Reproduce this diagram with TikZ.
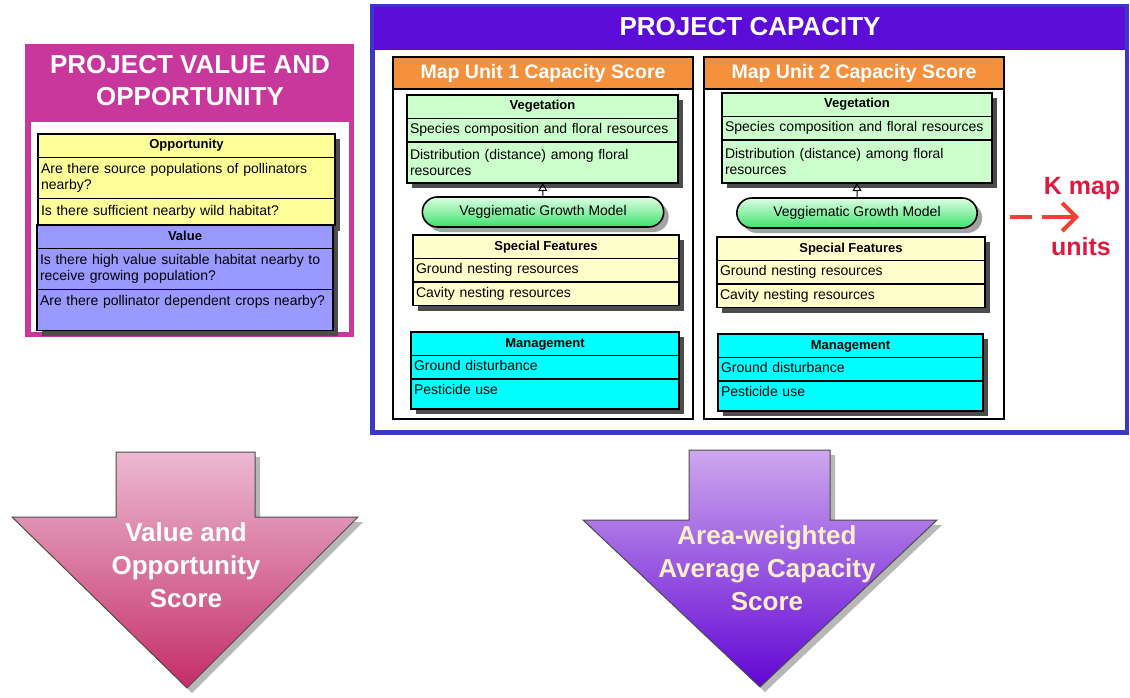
\documentclass[tikz,border=0pt]{standalone}
\usepackage{fontspec}
\setmainfont{Liberation Sans}
\usepackage{xcolor}
\usepackage{tikz}
\usetikzlibrary{positioning, shadows, shapes.misc, arrows.meta}

\definecolor{vomag}{RGB}{200,55,155}
\definecolor{oppfill}{RGB}{255,255,153}
\definecolor{valfill}{RGB}{153,153,255}
\definecolor{capblue}{RGB}{60,55,200}
\definecolor{caphead}{RGB}{92,12,215}
\definecolor{muorange}{RGB}{245,145,60}
\definecolor{vegfill}{RGB}{204,255,204}
\definecolor{sffill}{RGB}{255,255,204}
\definecolor{mgfill}{RGB}{0,255,255}
\definecolor{pilltop}{RGB}{222,255,226}
\definecolor{pillbot}{RGB}{60,225,110}
\definecolor{kmapred}{RGB}{225,25,65}
\definecolor{arrred}{RGB}{240,65,55}
\definecolor{votop}{RGB}{236,186,208}
\definecolor{vobot}{RGB}{196,45,105}
\definecolor{ctop}{RGB}{205,168,238}
\definecolor{cbot}{RGB}{98,5,212}
\definecolor{capyellow}{RGB}{255,240,200}

\begin{document}
\begin{tikzpicture}[x=1pt, y=-1pt, font=\fontsize{14}{16.5}\selectfont]
    \useasboundingbox (0,0) rectangle (1130,698);
    \tikzstyle{cell} = [draw, line width=1.6pt, outer sep=0pt, inner xsep=3pt, inner ysep=4pt,
        drop shadow={shadow xshift=5pt, shadow yshift=-5pt, fill=black!70, opacity=1}]
    \tikzstyle{hdr} = [cell, font=\fontsize{13}{15}\selectfont\bfseries, minimum height=23.5pt,
        text height=9.5pt, text depth=3pt]
    \tikzstyle{item} = [cell, align=left, minimum height=23.5pt, text height=10pt, text depth=3.5pt]
    \tikzstyle{item2} = [cell, align=left, minimum height=41pt]
    \tikzstyle{muframe} = [draw, line width=1.6pt, fill=white, outer sep=0pt, minimum width=300pt,
        minimum height=362pt, anchor=north west]
    \tikzstyle{mutitle} = [draw, line width=1.6pt, fill=muorange, outer sep=0pt, text=white,
        font=\fontsize{19.5}{22}\selectfont\bfseries, minimum width=300pt, minimum height=32pt,
        anchor=north west]
    \tikzstyle{pill} = [rounded rectangle, draw, line width=1.6pt, top color=pilltop,
        bottom color=pillbot, minimum height=30pt,
        drop shadow={shadow xshift=5pt, shadow yshift=-5pt, fill=black!45, opacity=.8}]
    \tikzstyle{gen} = [line width=1pt, -{Triangle[open, length=8pt, width=9pt]}]
    \tikzstyle{paneltitle} = [text=white, font=\fontsize{26}{32}\selectfont\bfseries, align=center]
    \tikzstyle{kmaplabel} = [text=kmapred, font=\fontsize{25}{30}\selectfont\bfseries, anchor=base]
    \tikzstyle{karrow} = [draw=arrred, line width=4pt, dash pattern=on 22pt off 10pt on 80pt off 0pt,
        -{Straight Barb[length=14pt, width=28pt]}]
    \tikzstyle{bigarrow} = [draw=black!70, line width=1pt,
        drop shadow={shadow xshift=5pt, shadow yshift=-5pt, fill=black!40, opacity=.7}]
    \tikzstyle{arrowtext} = [font=\fontsize{26}{33}\selectfont\bfseries, align=center]

    % value and opportunity panel
    \fill[vomag] (25,44) rectangle (354,337);
    \fill[white] (31,122) rectangle (349,332);
    \node[paneltitle] (votitle) at (190,81) {PROJECT VALUE AND\\OPPORTUNITY};

    \node[hdr, fill=oppfill, minimum width=297pt, anchor=north west] (opp) at (38,134) {Opportunity};
    \node[item2, fill=oppfill, text width=291pt, below=0pt of opp] (oppa)
        {Are there source populations of pollinators\\nearby?};
    \node[item, fill=oppfill, text width=291pt, minimum height=27pt, below=0pt of oppa] (oppb)
        {Is there sufficient nearby wild habitat?};

    \node[hdr, fill=valfill, minimum width=296pt, anchor=north west] (val) at (37,225) {Value};
    \node[item2, fill=valfill, text width=290pt, below=0pt of val] (vala)
        {Is there high value suitable habitat nearby to\\receive growing population?};
    \node[item, fill=valfill, text width=290pt, minimum height=41pt, text depth=20pt,
        below=0pt of vala] (valb) {Are there pollinator dependent crops nearby?};

    % capacity panel
    \fill[capblue] (370,4) rectangle (1129,435);
    \fill[caphead] (374,7) rectangle (1125,50);
    \fill[white] (375,50) rectangle (1125,430);
    \node[paneltitle] (captitle) at (750,27) {PROJECT CAPACITY};

    % map unit 1
    \node[muframe] (mu1) at (393,57) {};
    \node[mutitle] (mu1t) at (393,57) {Map Unit 1 Capacity Score};

    \node[hdr, fill=vegfill, minimum width=271pt, anchor=north west] (veg1) at (407,95) {Vegetation};
    \node[item, fill=vegfill, text width=265pt, below=0pt of veg1] (veg1a)
        {Species composition and floral resources};
    \node[item2, fill=vegfill, text width=265pt, below=0pt of veg1a] (veg1b)
        {Distribution (distance) among floral\\resources};
    \node[pill, minimum width=248pt] (gm1) at (543,212) {Veggiematic Growth Model};
    \draw[gen] (gm1) -- (veg1b);

    \node[hdr, fill=sffill, minimum width=266pt, anchor=north west] (sf1) at (413,235) {Special Features};
    \node[item, fill=sffill, text width=260pt, below=0pt of sf1] (sf1a) {Ground nesting resources};
    \node[item, fill=sffill, text width=260pt, below=0pt of sf1a] (sf1b) {Cavity nesting resources};

    \node[hdr, fill=mgfill, minimum width=268pt, anchor=north west] (mg1) at (411,332) {Management};
    \node[item, fill=mgfill, text width=262pt, below=0pt of mg1] (mg1a) {Ground disturbance};
    \node[item, fill=mgfill, text width=262pt, minimum height=30pt, text depth=9.5pt,
        below=0pt of mg1a] (mg1b) {Pesticide use};

    % map unit 2
    \node[muframe] (mu2) at (704,57) {};
    \node[mutitle] (mu2t) at (704,57) {Map Unit 2 Capacity Score};

    \node[hdr, fill=vegfill, minimum width=270pt, anchor=north west] (veg2) at (722,93) {Vegetation};
    \node[item, fill=vegfill, text width=264pt, below=0pt of veg2] (veg2a)
        {Species composition and floral resources};
    \node[item2, fill=vegfill, text width=264pt, minimum height=43pt, below=0pt of veg2a] (veg2b)
        {Distribution (distance) among floral\\resources};
    \node[pill, minimum width=247pt] (gm2) at (857,213) {Veggiematic Growth Model};
    \draw[gen] (gm2) -- (veg2b);

    \node[hdr, fill=sffill, minimum width=268pt, anchor=north west] (sf2) at (717,237) {Special Features};
    \node[item, fill=sffill, text width=262pt, below=0pt of sf2] (sf2a) {Ground nesting resources};
    \node[item, fill=sffill, text width=262pt, below=0pt of sf2a] (sf2b) {Cavity nesting resources};

    \node[hdr, fill=mgfill, minimum width=265pt, anchor=north west] (mg2) at (718,334) {Management};
    \node[item, fill=mgfill, text width=259pt, below=0pt of mg2] (mg2a) {Ground disturbance};
    \node[item, fill=mgfill, text width=259pt, minimum height=30pt, text depth=9.5pt,
        below=0pt of mg2a] (mg2b) {Pesticide use};

    % K map units
    \node[kmaplabel] (kmap) at (1082,194) {K map};
    \node[kmaplabel] (kunits) at (1081,255) {units};
    \coordinate (kfrom) at (1010,217);
    \coordinate (kto) at (1079,217);
    \draw[karrow] (kfrom) -- (kto);

    % score arrows
    \shade[bigarrow, top color=votop, bottom color=vobot] (116,452) -- (255,452) -- (255,517)
        -- (358,517) -- (187,688) -- (12,517) -- (116,517) -- cycle;
    \node[arrowtext, text=white] (voscore) at (186,565) {Value and\\Opportunity\\Score};

    \shade[bigarrow, top color=ctop, bottom color=cbot] (689,450) -- (830,450) -- (830,520)
        -- (937,520) -- (760,687) -- (583,520) -- (689,520) -- cycle;
    \node[arrowtext, text=capyellow] (capscore) at (767,568) {Area-weighted\\Average Capacity\\Score};
\end{tikzpicture}
\end{document}
